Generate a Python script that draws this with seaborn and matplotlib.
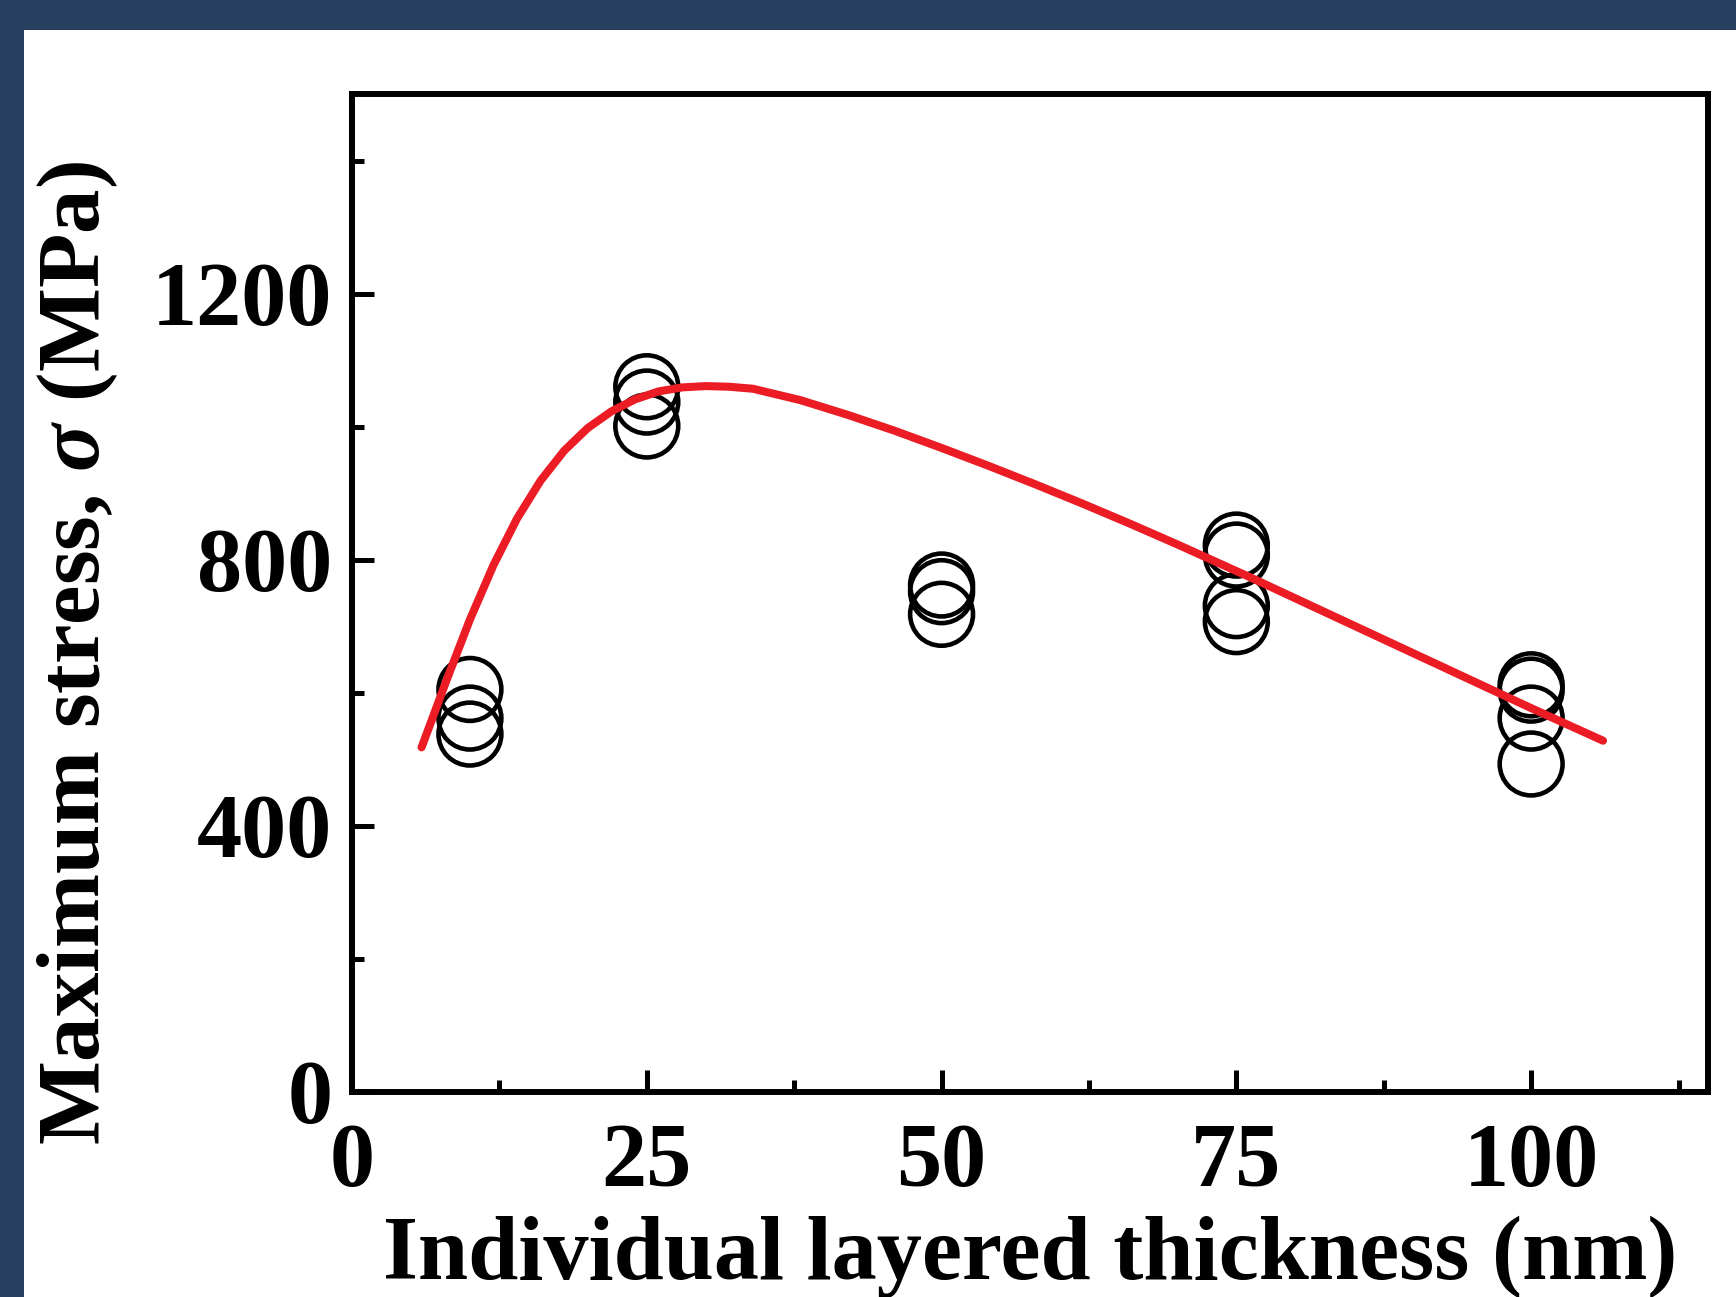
import matplotlib
matplotlib.use("Agg")
import matplotlib.pyplot as plt
import seaborn as sns
import pandas as pd
from matplotlib.patches import Rectangle
from matplotlib.ticker import MultipleLocator

# ---- data ----
thickness = [10, 10, 10,
             25, 25, 25,
             50, 50, 50,
             75, 75, 75, 75,
             100, 100, 100, 100]
stress = [605, 562, 538,
          1060, 1037, 1001,
          762, 752, 718,
          822, 807, 731, 707,
          612, 604, 562, 493]

fit_x = [5.9, 8, 10, 12, 14, 16, 18, 20, 22, 24, 26, 28, 30, 32, 34,
         38, 42, 46, 50, 54, 58, 62, 66, 70, 76, 84, 92, 100, 106.1]
fit_y = [518, 618, 710, 792, 862, 919, 964, 998, 1023, 1041, 1053, 1059, 1061,
         1060, 1057, 1040, 1018, 994, 968, 941, 913, 884, 854, 823, 775, 709,
         643, 577, 528]

x_ticks = [0, 25, 50, 75, 100]
y_ticks = [0, 400, 800, 1200]

pts = pd.DataFrame({"x": thickness, "y": stress})
fit = pd.DataFrame({"x": fit_x, "y": fit_y})

sns.set_style("ticks")
plt.rcParams["font.family"] = ["Liberation Serif", "DejaVu Serif"]
plt.rcParams["font.weight"] = "bold"
plt.rcParams["mathtext.fontset"] = "custom"
plt.rcParams["mathtext.it"] = "Liberation Serif:italic:bold"
plt.rcParams["mathtext.rm"] = "Liberation Serif:bold"
for k in ["text.color", "axes.labelcolor", "xtick.color", "ytick.color",
          "xtick.labelcolor", "ytick.labelcolor"]:
    plt.rcParams[k] = "black"

W, H = 1736, 1297
fig = plt.figure(figsize=(W / 100, H / 100), dpi=100)
fig.patch.set_facecolor("#27405f")
fig.patches.append(Rectangle((24 / W, 0), 1 - 24 / W, 1 - 30 / H,
                             transform=fig.transFigure, facecolor="white",
                             edgecolor="none", zorder=-10))

ax = fig.add_axes([352 / W, 1 - 1092 / H, (1708 - 352) / W, (1092 - 94) / H])
ax.set_zorder(5)
ax.set_facecolor("white")

sns.scatterplot(data=pts, x="x", y="y", ax=ax, marker="o", s=2050,
                facecolor="none", edgecolor="black", linewidth=3.3,
                zorder=2, legend=False)
sns.lineplot(data=fit, x="x", y="y", ax=ax, sort=False, estimator=None,
             color="#ec1c24", linewidth=5.8, zorder=3,
             solid_capstyle="round", solid_joinstyle="round")

ax.set_xlim(0, 115)
ax.set_ylim(0, 1500)
ax.set_xticks(x_ticks)
ax.set_yticks(y_ticks)
ax.xaxis.set_minor_locator(MultipleLocator(12.5))
ax.yaxis.set_minor_locator(MultipleLocator(200))

for s in ax.spines.values():
    s.set_linewidth(4.3)
    s.set_color("black")
    s.set_visible(True)

ax.tick_params(which="both", direction="in", width=3.6, color="black",
               top=False, right=False, labelsize=65, labelcolor="black")
ax.tick_params(which="major", length=16)
ax.tick_params(which="minor", length=8.6)
ax.tick_params(axis="x", pad=22)
ax.tick_params(axis="y", pad=14)
for lab in ax.get_xticklabels() + ax.get_yticklabels():
    lab.set_fontweight("bold")

ax.set_xlabel("Individual layered thickness (nm)", fontsize=65,
              fontweight="bold", labelpad=8, color="black")
ax.set_ylabel(r"Maximum stress, $\sigma$ (MPa)", fontsize=64,
              fontweight="bold", color="black")
ax.yaxis.set_label_coords(-0.171, 0.44)

fig.savefig("out.png", dpi=100, facecolor=fig.get_facecolor())
